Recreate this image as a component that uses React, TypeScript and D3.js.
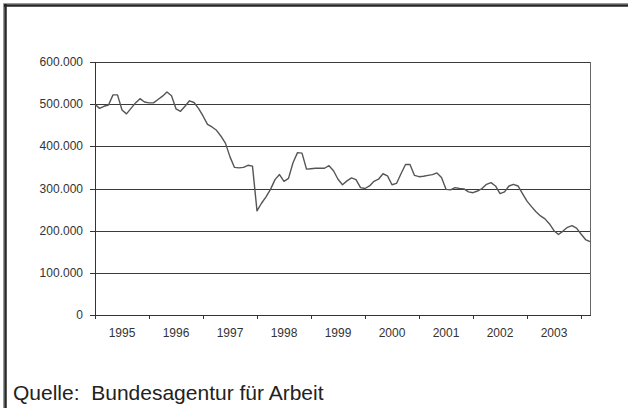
import * as d3 from "d3";

// monthly values, Jan 1995 .. Mar 2004
const v1995 = [500000, 490000, 495000, 498000, 522000, 522000, 486000, 477000, 490000, 503000, 513000, 505000];
const v1996 = [503000, 503000, 511000, 519000, 529000, 520000, 489000, 483000, 495000, 508000, 504000, 490000];
const v1997 = [472000, 452000, 446000, 438000, 424000, 407000, 375000, 350000, 349000, 350000, 355000, 353000];
const v1998 = [247000, 265000, 280000, 298000, 321000, 333000, 317000, 324000, 361000, 385000, 384000, 346000];
const v1999 = [347000, 348000, 348000, 348000, 354000, 342000, 322000, 309000, 318000, 325000, 321000, 302000];
const v2000 = [300000, 306000, 317000, 322000, 335000, 330000, 309000, 312000, 335000, 357000, 357000, 331000];
const v2001 = [328000, 329000, 331000, 333000, 337000, 326000, 298000, 297000, 302000, 300000, 299000, 292000];
const v2002 = [290000, 294000, 300000, 310000, 314000, 306000, 288000, 292000, 306000, 310000, 306000, 288000];
const v2003 = [270000, 257000, 245000, 235000, 228000, 216000, 200000, 191000, 199000, 208000, 212000, 206000];
const v2004 = [192000, 179000, 174000];

const years = ["1995", "1996", "1997", "1998", "1999", "2000", "2001", "2002", "2003"];
const yTicks = [0, 100000, 200000, 300000, 400000, 500000, 600000];
const source = "Quelle:  Bundesagentur für Arbeit";

const values = [...v1995, ...v1996, ...v1997, ...v1998, ...v1999, ...v2000, ...v2001, ...v2002, ...v2003, ...v2004];

const W = 628;
const H = 408;
const left = 95;
const right = 590;
const top = 62;
const bottom = 315;
const font = "'Liberation Sans', Arial, sans-serif";

const de = d3.formatLocale({ decimal: ",", thousands: ".", grouping: [3], currency: ["", " €"] });
const fmt = de.format(",");

export default function App() {
  const x = d3.scaleLinear().domain([0, values.length - 1]).range([left, right]);
  const y = d3.scaleLinear().domain([0, 600000]).range([bottom, top]);
  const step = x(12) - x(0);

  const line = d3
    .line<number>()
    .x((_, i) => x(i))
    .y((d) => y(d));

  const xTicks = d3.range(0, values.length, 12);

  return (
    <svg
      width={W}
      height={H}
      style={{ position: "absolute", left: 0, top: 0, background: "#fff" }}
      fontFamily={font}
    >
      {/* outer frame, only top and left visible */}
      <line x1={3.5} x2={W} y1={3.5} y2={3.5} stroke="#999" strokeWidth={1} />
      <line x1={3.5} x2={3.5} y1={3.5} y2={H} stroke="#999" strokeWidth={1} />
      <line x1={4} x2={W} y1={5.5} y2={5.5} stroke="#262626" strokeWidth={2.5} />
      <line x1={5.5} x2={5.5} y1={4} y2={H} stroke="#262626" strokeWidth={2.5} />

      {/* gridlines + y axis */}
      {yTicks.map((t) => (
        <g key={t}>
          {t > 0 && (
            <line x1={left} x2={right} y1={Math.round(y(t)) + 0.5} y2={Math.round(y(t)) + 0.5} stroke="#3a3a3a" />
          )}
          <line x1={left - 5} x2={left} y1={Math.round(y(t)) + 0.5} y2={Math.round(y(t)) + 0.5} stroke="#333" />
          <text x={83} y={y(t) + 4} textAnchor="end" fontSize={12} fill="#333">
            {fmt(t)}
          </text>
        </g>
      ))}
      <line x1={left + 0.5} x2={left + 0.5} y1={Math.round(top)} y2={bottom + 0.5} stroke="#333" />
      <line x1={right + 0.5} x2={right + 0.5} y1={Math.round(top)} y2={bottom + 0.5} stroke="#666" />
      <line x1={left} x2={right + 1} y1={bottom + 0.5} y2={bottom + 0.5} stroke="#333" />

      {/* x axis */}
      {xTicks.map((t) => (
        <line key={t} x1={Math.round(x(t)) + 0.5} x2={Math.round(x(t)) + 0.5} y1={bottom} y2={bottom + 4} stroke="#333" />
      ))}
      {years.map((yr, k) => (
        <text key={yr} x={x(k * 12) + step / 2} y={337} textAnchor="middle" fontSize={12} fill="#333">
          {yr}
        </text>
      ))}

      <path d={line(values) ?? ""} fill="none" stroke="#555" strokeWidth={1.4} strokeLinejoin="round" />

      <text x={13} y={400} fontSize={21} fill="#222" style={{ whiteSpace: "pre" }}>
        {source}
      </text>
    </svg>
  );
}
